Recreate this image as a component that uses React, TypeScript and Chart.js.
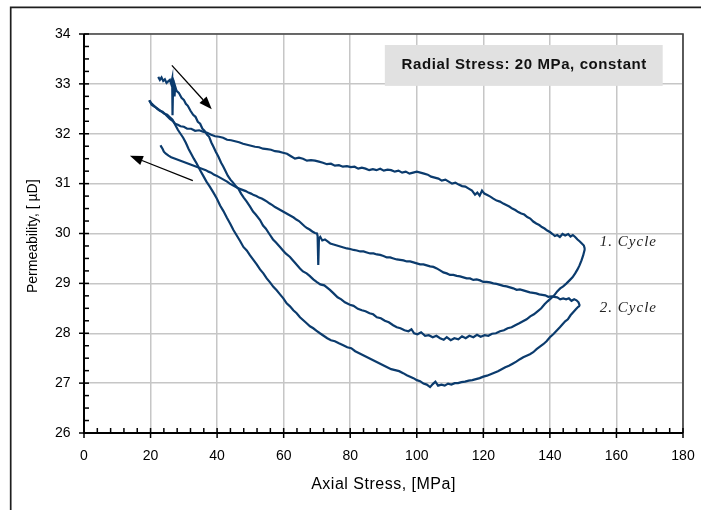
import React, { useEffect, useRef } from 'react';
import { Chart, registerables } from 'chart.js';

Chart.register(...registerables);

// ---- axes ----
const X_MIN = 0;
const X_MAX = 180;
const X_STEP = 20;
const X_MINOR = 4;
const Y_MIN = 26;
const Y_MAX = 34;
const Y_STEP = 1;
const Y_MINOR = 0.25;

const X_TITLE = 'Axial Stress, [MPa]';
const Y_TITLE = 'Permeability, [ µD]';
const NOTE_TEXT = 'Radial Stress: 20 MPa, constant';
const CYCLE_LABELS = ['1. Cycle', '2. Cycle'];

// ---- data: cycle 1 loading ----
const c1LoadX = [22.3, 22.8, 23.3, 23.8, 24.3, 24.8, 25.3, 25.8, 26.2, 26.5, 26.6, 26.8, 26.9, 27.2, 27.4, 27.8, 28.5, 29.3, 30.0, 30.6, 31.2, 32.0, 32.8, 33.5, 34.2, 34.9, 35.6, 36.2, 37.0, 37.6, 38.3, 38.9, 39.6, 40.4, 41.2, 41.8, 42.4, 43.2, 44.0, 44.8, 45.6, 46.4, 47.2, 48.0, 48.9, 49.9, 50.8, 51.6, 52.9, 53.8, 54.6, 55.9, 56.8, 57.7, 58.9, 59.8, 60.6, 61.9, 62.8, 63.6, 64.9, 65.8, 66.9, 67.8, 68.9, 69.9, 71.0, 72.2, 73.9, 75.0, 76.2, 77.3, 78.4, 79.9, 81.0, 82.3, 83.5, 84.6, 85.8, 86.9, 88.0, 89.2, 90.4, 91.6, 92.9, 94.0, 95.1, 96.3, 97.5, 98.4, 99.2, 100.2, 101.3, 102.5, 103.6, 104.8, 105.9, 107.0, 108.1, 109.0, 110.2, 111.3, 112.5, 113.6, 114.7, 115.8, 117.0, 118.1, 119.2, 120.4, 121.5, 122.6, 123.8, 125.0, 126.2, 127.3, 128.5, 129.6, 130.8, 131.9, 133.0, 134.1, 135.2, 136.3, 137.4, 138.4, 139.3, 140.3, 141.3, 142.2, 143.1, 144.0, 145.0, 145.9, 146.8, 147.6, 148.3, 148.9, 149.5, 150.0, 150.5];
const c1LoadY = [33.14, 33.08, 33.13, 33.06, 33.09, 33.02, 33.05, 33.08, 33.0, 33.1, 32.37, 33.08, 33.06, 32.75, 32.95, 32.86, 32.82, 32.72, 32.68, 32.6, 32.56, 32.46, 32.38, 32.34, 32.24, 32.2, 32.1, 32.06, 31.98, 31.94, 31.82, 31.74, 31.64, 31.54, 31.42, 31.35, 31.27, 31.16, 31.08, 31.02, 30.95, 30.9, 30.8, 30.72, 30.64, 30.54, 30.44, 30.38, 30.27, 30.16, 30.1, 29.97, 29.88, 29.82, 29.73, 29.66, 29.6, 29.53, 29.46, 29.4, 29.3, 29.24, 29.2, 29.15, 29.08, 29.03, 28.98, 28.96, 28.87, 28.8, 28.72, 28.68, 28.62, 28.57, 28.55, 28.49, 28.46, 28.44, 28.4, 28.38, 28.32, 28.3, 28.25, 28.22, 28.16, 28.12, 28.1, 28.06, 28.04, 28.08, 28.0, 27.98, 28.02, 27.95, 27.96, 27.92, 27.95, 27.9, 27.87, 27.92, 27.86, 27.9, 27.88, 27.94, 27.9, 27.95, 27.92, 27.97, 27.93, 27.96, 27.95, 27.99, 28.0, 28.04, 28.06, 28.1, 28.12, 28.16, 28.2, 28.24, 28.28, 28.34, 28.38, 28.44, 28.5, 28.58, 28.64, 28.7, 28.76, 28.84, 28.9, 28.94, 29.0, 29.06, 29.12, 29.2, 29.28, 29.36, 29.46, 29.56, 29.69];

// ---- data: cycle 1 unloading ----
const c1UnloadX = [150.5, 150.2, 149.6, 149.0, 148.3, 147.6, 146.9, 146.2, 145.5, 144.6, 143.8, 143.0, 142.2, 141.5, 140.8, 140.0, 139.2, 138.4, 137.6, 136.8, 135.9, 135.0, 134.1, 133.2, 132.3, 131.4, 130.5, 129.6, 128.7, 127.8, 126.9, 126.0, 125.0, 124.0, 123.0, 122.1, 121.2, 120.3, 119.6, 118.9, 118.2, 117.5, 116.6, 115.6, 114.6, 113.6, 112.6, 111.6, 110.6, 109.6, 108.6, 107.5, 106.5, 105.4, 104.3, 103.3, 102.2, 101.1, 100.0, 98.9, 97.8, 96.7, 95.6, 94.5, 93.4, 92.3, 91.2, 90.1, 89.0, 87.9, 86.8, 85.7, 84.6, 83.5, 82.4, 81.3, 80.2, 79.0, 77.8, 76.6, 75.4, 74.2, 73.0, 71.8, 70.6, 69.4, 68.2, 67.0, 65.8, 64.6, 63.4, 62.2, 61.0, 59.8, 58.6, 57.4, 56.2, 55.0, 53.8, 52.6, 51.4, 50.2, 49.0, 47.8, 46.6, 45.4, 44.2, 43.0, 41.8, 40.6, 39.4, 38.2, 37.0, 35.8, 34.6, 33.4, 32.2, 31.0, 30.0, 29.0, 28.2, 27.4, 26.6, 25.8, 25.0, 24.3, 23.6, 22.8, 22.0, 21.2, 20.4, 19.6];
const c1UnloadY = [29.69, 29.76, 29.8, 29.84, 29.88, 29.93, 29.97, 29.94, 29.99, 29.96, 29.99, 29.93, 29.97, 29.95, 29.99, 30.03, 30.06, 30.1, 30.13, 30.17, 30.2, 30.24, 30.3, 30.33, 30.38, 30.4, 30.43, 30.47, 30.5, 30.54, 30.57, 30.6, 30.64, 30.66, 30.7, 30.74, 30.77, 30.8, 30.86, 30.76, 30.82, 30.78, 30.86, 30.9, 30.94, 30.95, 30.98, 31.02, 31.0, 31.04, 31.08, 31.06, 31.1, 31.12, 31.14, 31.18, 31.2, 31.22, 31.24, 31.22, 31.2, 31.24, 31.22, 31.26, 31.24, 31.27, 31.28, 31.26, 31.3, 31.27, 31.29, 31.27, 31.3, 31.32, 31.3, 31.34, 31.33, 31.35, 31.34, 31.37, 31.36, 31.4, 31.39, 31.42, 31.44, 31.46, 31.47, 31.46, 31.5, 31.52, 31.5, 31.55, 31.6, 31.62, 31.64, 31.65, 31.68, 31.69, 31.7, 31.73, 31.74, 31.76, 31.78, 31.8, 31.83, 31.85, 31.87, 31.88, 31.92, 31.94, 31.95, 31.98, 32.02, 32.04, 32.07, 32.06, 32.1, 32.1, 32.14, 32.15, 32.18, 32.2, 32.26, 32.3, 32.35, 32.4, 32.44, 32.46, 32.5, 32.55, 32.6, 32.67];

// ---- data: cycle 2 loading ----
const c2LoadX = [19.6, 20.3, 21.0, 21.8, 22.6, 23.4, 24.2, 25.0, 25.8, 26.6, 27.4, 28.2, 29.0, 29.8, 30.6, 31.4, 32.2, 33.0, 33.9, 34.9, 35.8, 36.8, 37.8, 38.9, 39.9, 40.9, 41.9, 42.9, 43.9, 44.9, 45.9, 46.9, 47.9, 48.9, 49.9, 50.9, 51.9, 52.9, 53.9, 54.9, 55.9, 56.9, 57.9, 58.9, 59.9, 60.9, 61.9, 62.9, 63.9, 64.9, 65.9, 66.9, 67.9, 68.9, 69.9, 70.9, 72.0, 73.1, 74.2, 75.4, 76.6, 77.9, 79.1, 80.3, 81.5, 82.7, 83.9, 85.1, 86.3, 87.5, 88.7, 89.9, 91.1, 92.3, 93.5, 94.7, 95.9, 97.0, 98.0, 99.0, 100.0, 101.0, 102.0, 103.0, 104.0, 104.8, 105.6, 106.4, 107.4, 108.4, 109.4, 110.4, 111.4, 112.4, 113.4, 114.5, 115.6, 116.7, 117.8, 118.9, 120.0, 121.1, 122.2, 123.3, 124.4, 125.5, 126.6, 127.7, 128.8, 129.9, 131.0, 132.0, 133.0, 134.0, 135.0, 136.0, 137.0, 138.0, 139.0, 140.0, 141.0, 142.0, 143.0, 143.8, 144.6, 145.4, 146.2, 147.0, 147.8, 148.5, 149.0];
const c2LoadY = [32.67, 32.58, 32.55, 32.52, 32.48, 32.44, 32.4, 32.38, 32.33, 32.28, 32.18, 32.08, 32.0, 31.92, 31.82, 31.7, 31.6, 31.5, 31.4, 31.27, 31.16, 31.04, 30.94, 30.82, 30.7, 30.56, 30.45, 30.32, 30.2, 30.07, 29.96, 29.85, 29.73, 29.66, 29.56, 29.47, 29.38, 29.28, 29.2, 29.1, 29.02, 28.93, 28.86, 28.78, 28.7, 28.6, 28.54, 28.46, 28.4, 28.32, 28.26, 28.2, 28.14, 28.1, 28.05, 28.0, 27.95, 27.9, 27.86, 27.84, 27.8, 27.76, 27.72, 27.7, 27.64, 27.6, 27.56, 27.52, 27.48, 27.44, 27.4, 27.36, 27.32, 27.28, 27.26, 27.24, 27.2, 27.16, 27.13, 27.1, 27.06, 27.04, 26.99, 26.97, 26.92, 26.98, 27.03, 26.95, 26.97, 26.95, 26.99, 26.97, 27.0, 27.0, 27.02, 27.03, 27.05, 27.06, 27.08, 27.1, 27.13, 27.15, 27.18, 27.21, 27.24, 27.28, 27.32, 27.35, 27.39, 27.43, 27.48, 27.52, 27.55, 27.58, 27.62, 27.68, 27.73, 27.78, 27.84, 27.92, 27.98, 28.05, 28.12, 28.18, 28.24, 28.28, 28.36, 28.42, 28.48, 28.53, 28.55];

// ---- data: cycle 2 unloading ----
const c2UnloadX = [149.0, 148.6, 148.0, 147.3, 146.5, 145.7, 144.9, 144.0, 143.1, 142.2, 141.3, 140.4, 139.5, 138.6, 137.7, 136.8, 135.9, 135.0, 134.0, 133.0, 132.0, 131.0, 130.0, 129.0, 128.0, 127.0, 126.0, 125.0, 124.0, 123.0, 122.0, 121.0, 120.0, 119.0, 118.0, 117.0, 116.0, 115.0, 114.0, 113.0, 112.0, 111.0, 110.0, 109.0, 108.0, 107.0, 106.0, 105.0, 104.0, 103.0, 102.0, 101.0, 100.0, 99.0, 98.0, 97.0, 96.0, 95.0, 94.0, 93.0, 92.0, 91.0, 90.0, 89.0, 88.0, 87.0, 86.0, 85.0, 84.0, 83.0, 82.0, 81.0, 80.0, 79.0, 78.0, 77.0, 76.0, 75.0, 74.0, 73.2, 72.4, 71.6, 71.0, 70.6, 70.4, 70.2, 70.0, 69.4, 68.6, 67.8, 67.0, 66.2, 65.4, 64.6, 63.8, 63.0, 62.2, 61.4, 60.6, 59.8, 59.0, 58.2, 57.4, 56.6, 55.8, 55.0, 54.2, 53.4, 52.6, 51.8, 51.0, 50.2, 49.4, 48.6, 47.8, 47.0, 46.2, 45.4, 44.6, 43.8, 43.0, 42.2, 41.4, 40.6, 39.8, 39.0, 38.2, 37.4, 36.6, 35.8, 35.0, 34.2, 33.4, 32.6, 31.8, 31.0, 30.2, 29.4, 28.6, 27.8, 27.0, 26.2, 25.4, 24.6, 24.0, 23.6, 23.2, 23.0];
const c2UnloadY = [28.55, 28.62, 28.66, 28.68, 28.65, 28.7, 28.68, 28.7, 28.68, 28.72, 28.73, 28.74, 28.73, 28.76, 28.77, 28.78, 28.8, 28.81, 28.82, 28.84, 28.86, 28.88, 28.87, 28.9, 28.92, 28.94, 28.95, 28.97, 28.99, 29.0, 29.02, 29.03, 29.03, 29.06, 29.08, 29.07, 29.1, 29.1, 29.12, 29.14, 29.15, 29.17, 29.17, 29.2, 29.22, 29.26, 29.3, 29.33, 29.34, 29.36, 29.38, 29.38, 29.4, 29.42, 29.44, 29.44, 29.46, 29.47, 29.48, 29.5, 29.52, 29.52, 29.55, 29.57, 29.58, 29.6, 29.6, 29.62, 29.64, 29.64, 29.66, 29.67, 29.69, 29.7, 29.72, 29.74, 29.76, 29.78, 29.8, 29.84, 29.88, 29.86, 29.93, 29.9, 29.37, 29.95, 30.0, 30.01, 30.04, 30.08, 30.11, 30.15, 30.2, 30.25, 30.28, 30.32, 30.35, 30.38, 30.41, 30.44, 30.47, 30.5, 30.53, 30.57, 30.6, 30.64, 30.67, 30.7, 30.72, 30.75, 30.77, 30.8, 30.82, 30.85, 30.87, 30.89, 30.91, 30.94, 30.97, 31.0, 31.04, 31.07, 31.1, 31.13, 31.16, 31.18, 31.22, 31.24, 31.27, 31.29, 31.31, 31.33, 31.35, 31.37, 31.39, 31.41, 31.43, 31.45, 31.47, 31.49, 31.51, 31.53, 31.56, 31.6, 31.64, 31.7, 31.74, 31.77];

const LINE_COLOR = '#0b3b6d';
const SANS = '"Liberation Sans", Arial, Helvetica, sans-serif';
const SERIF = '"Liberation Serif", "Times New Roman", serif';

function toPoints(xs: number[], ys: number[]) {
  return xs.map((v, i) => ({ x: v, y: ys[i] }));
}

function drawArrow(ctx: CanvasRenderingContext2D, x1: number, y1: number, x2: number, y2: number) {
  const ang = Math.atan2(y2 - y1, x2 - x1);
  const L = 13;
  const W = 4.8;
  const bx = x2 - L * Math.cos(ang);
  const by = y2 - L * Math.sin(ang);
  ctx.beginPath();
  ctx.moveTo(x1, y1);
  ctx.lineTo(bx, by);
  ctx.stroke();
  ctx.beginPath();
  ctx.moveTo(x2, y2);
  ctx.lineTo(bx + W * Math.sin(ang), by - W * Math.cos(ang));
  ctx.lineTo(bx - W * Math.sin(ang), by + W * Math.cos(ang));
  ctx.closePath();
  ctx.fill();
}

const overlayPlugin = {
  id: 'overlay',
  afterDatasetsDraw(chart: any) {
    const { ctx, chartArea: ca, scales } = chart;
    const xs = scales.x;
    const ys = scales.y;
    const px = (v: number) => xs.getPixelForValue(v);
    const py = (v: number) => ys.getPixelForValue(v);
    ctx.save();

    // outer frame
    ctx.strokeStyle = '#1e1e1e';
    ctx.lineWidth = 1.7;
    ctx.beginPath();
    ctx.moveTo(10.7, 520);
    ctx.lineTo(10.7, 7.4);
    ctx.lineTo(710, 7.4);
    ctx.stroke();

    // plot border top/right
    ctx.strokeStyle = '#454545';
    ctx.lineWidth = 1.7;
    ctx.beginPath();
    ctx.moveTo(ca.left, ca.top);
    ctx.lineTo(ca.right, ca.top);
    ctx.lineTo(ca.right, ca.bottom);
    ctx.stroke();

    // axes
    ctx.strokeStyle = '#000';
    ctx.lineWidth = 2;
    ctx.beginPath();
    ctx.moveTo(ca.left, ca.top);
    ctx.lineTo(ca.left, ca.bottom);
    ctx.lineTo(ca.right, ca.bottom);
    ctx.stroke();

    // ticks
    ctx.lineWidth = 1.5;
    const nx = Math.round((X_MAX - X_MIN) / X_MINOR);
    for (let i = 0; i <= nx; i++) {
      const v = X_MIN + i * X_MINOR;
      const p = px(v);
      const major = Math.abs(v / X_STEP - Math.round(v / X_STEP)) < 1e-6;
      ctx.beginPath();
      ctx.moveTo(p, ca.bottom + (major ? 5 : 0));
      ctx.lineTo(p, ca.bottom - 5);
      ctx.stroke();
    }
    const ny = Math.round((Y_MAX - Y_MIN) / Y_MINOR);
    for (let i = 0; i <= ny; i++) {
      const v = Y_MIN + i * Y_MINOR;
      const p = py(v);
      const major = Math.abs(v / Y_STEP - Math.round(v / Y_STEP)) < 1e-6;
      ctx.beginPath();
      ctx.moveTo(ca.left - (major ? 5 : 0), p);
      ctx.lineTo(ca.left + 5, p);
      ctx.stroke();
    }

    // note box
    const bx0 = px(90.4);
    const bx1 = px(173.9);
    const by0 = py(33.78);
    const by1 = py(32.96);
    ctx.fillStyle = '#e1e1e1';
    ctx.fillRect(bx0, by0, bx1 - bx0, by1 - by0);
    ctx.fillStyle = '#111';
    ctx.font = `bold 15px ${SANS}`;
    (ctx as any).letterSpacing = '0.6px';
    ctx.textAlign = 'center';
    ctx.textBaseline = 'middle';
    ctx.fillText(NOTE_TEXT, (bx0 + bx1) / 2 + 0.5, (by0 + by1) / 2 - 1);

    // cycle labels
    ctx.font = `italic 15px ${SERIF}`;
    (ctx as any).letterSpacing = '1px';
    ctx.textAlign = 'left';
    ctx.fillStyle = '#222';
    ctx.fillText(CYCLE_LABELS[0], px(155), py(29.82));
    ctx.fillText(CYCLE_LABELS[1], px(155), py(28.5));

    // arrows
    ctx.strokeStyle = '#000';
    ctx.fillStyle = '#000';
    ctx.lineWidth = 1.3;
    drawArrow(ctx, px(26.4), py(33.37), px(38.4), py(32.49));
    drawArrow(ctx, px(32.7), py(31.06), px(13.8), py(31.56));

    // axis titles
    ctx.fillStyle = '#000';
    ctx.font = `16px ${SANS}`;
    (ctx as any).letterSpacing = '0.5px';
    ctx.textAlign = 'center';
    ctx.textBaseline = 'middle';
    ctx.fillText(X_TITLE, (ca.left + ca.right) / 2, 485);

    (ctx as any).letterSpacing = '0px';
    ctx.font = `14px ${SANS}`;
    ctx.translate(33, 293);
    ctx.rotate(-Math.PI / 2);
    ctx.textAlign = 'left';
    ctx.fillText(Y_TITLE, 0, 0);

    ctx.restore();
  },
};

export default function App() {
  const ref = useRef<HTMLCanvasElement | null>(null);

  useEffect(() => {
    if (!ref.current) return;
    const mk = (xs: number[], ys: number[]) => ({
      data: toPoints(xs, ys),
      showLine: true,
      borderColor: LINE_COLOR,
      backgroundColor: LINE_COLOR,
      borderWidth: 2.2,
      pointRadius: 0,
      fill: false,
      tension: 0,
    });
    const chart = new Chart(ref.current, {
      type: 'scatter',
      data: {
        datasets: [
          mk(c1LoadX, c1LoadY),
          mk(c1UnloadX, c1UnloadY),
          mk(c2LoadX, c2LoadY),
          mk(c2UnloadX, c2UnloadY),
        ],
      },
      options: {
        responsive: false,
        animation: false,
        devicePixelRatio: 1,
        layout: { padding: { left: 0, top: 34, right: 18, bottom: 0 } },
        plugins: {
          legend: { display: false },
          tooltip: { enabled: false },
        },
        scales: {
          x: {
            type: 'linear',
            min: X_MIN,
            max: X_MAX,
            ticks: {
              stepSize: X_STEP,
              padding: 14.6,
              color: '#000',
              font: { family: SANS, size: 14 },
              maxRotation: 0,
              autoSkip: false,
            },
            grid: { color: '#c6c6c6', lineWidth: 1.5, drawTicks: false },
            border: { display: false },
            afterFit: (s: any) => {
              s.height = 77;
              s.paddingLeft = 0;
              s.paddingRight = 0;
            },
          },
          y: {
            type: 'linear',
            min: Y_MIN,
            max: Y_MAX,
            ticks: {
              stepSize: Y_STEP,
              padding: 13.5,
              color: '#000',
              font: { family: SANS, size: 14 },
              autoSkip: false,
            },
            grid: { color: '#c6c6c6', lineWidth: 1.5, drawTicks: false },
            border: { display: false },
            afterFit: (s: any) => {
              s.width = 84;
              s.paddingTop = 0;
              s.paddingBottom = 0;
            },
          },
        },
      },
      plugins: [overlayPlugin],
    } as any);
    return () => chart.destroy();
  }, []);

  return (
    <div style={{ position: 'fixed', left: 0, top: 0, width: 701, height: 510, background: '#fff' }}>
      <canvas ref={ref} width={701} height={510} style={{ display: 'block', width: 701, height: 510 }} />
    </div>
  );
}
